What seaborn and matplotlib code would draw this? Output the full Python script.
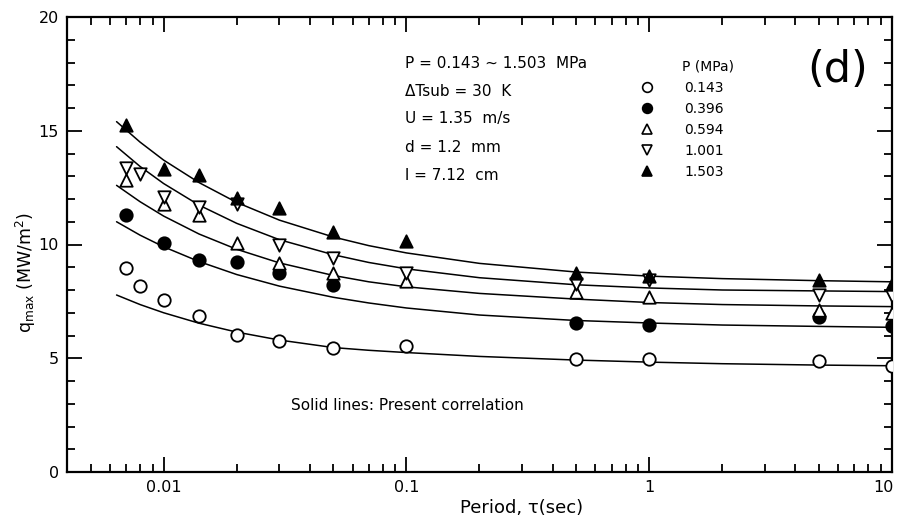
import numpy as np
import pandas as pd
import matplotlib
matplotlib.use("Agg")
import matplotlib.pyplot as plt
import matplotlib.transforms as mtransforms
from matplotlib.ticker import FixedLocator, FixedFormatter, LogLocator, MultipleLocator, NullFormatter
from matplotlib.lines import Line2D
import seaborn as sns

# ---- measured critical heat flux, q_max (MW/m^2) vs. period tau (s) ----
pressures = ["0.143", "0.396", "0.594", "1.001", "1.503"]

tau_0143 = [0.007, 0.008, 0.01, 0.014, 0.02, 0.03, 0.05, 0.1, 0.5, 1, 5, 10]
q_0143 = [8.95, 8.18, 7.56, 6.86, 6.02, 5.77, 5.44, 5.55, 4.97, 4.98, 4.88, 4.65]

tau_0396 = [0.007, 0.01, 0.014, 0.02, 0.03, 0.05, 0.5, 1, 5, 10]
q_0396 = [11.3, 10.08, 9.32, 9.22, 8.73, 8.22, 6.55, 6.48, 6.8, 6.4]

tau_0594 = [0.007, 0.01, 0.014, 0.02, 0.03, 0.05, 0.1, 0.5, 1, 5, 10]
q_0594 = [12.84, 11.8, 11.3, 10.08, 9.2, 8.73, 8.38, 7.93, 7.68, 7.12, 6.98]

tau_1001 = [0.007, 0.008, 0.01, 0.014, 0.02, 0.03, 0.05, 0.1, 0.5, 1, 5, 10]
q_1001 = [13.35, 13.1, 12.1, 11.63, 11.78, 9.98, 9.39, 8.76, 8.26, 8.45, 7.78, 7.75]

tau_1503 = [0.007, 0.01, 0.014, 0.02, 0.03, 0.05, 0.1, 0.5, 1, 5, 10]
q_1503 = [15.25, 13.3, 13.05, 12.03, 11.59, 10.56, 10.15, 8.76, 8.6, 8.44, 8.26]

# ---- correlation curves (solid lines) ----
tau_line = [0.0064, 0.008, 0.01, 0.014, 0.02, 0.03, 0.05, 0.07, 0.1, 0.2, 0.5, 1, 2, 5, 10]
line_0143 = [7.78, 7.36, 7.0, 6.54, 6.15, 5.8, 5.47, 5.35, 5.25, 5.08, 4.92, 4.83, 4.76, 4.7, 4.67]
line_0396 = [11.0, 10.41, 9.9, 9.25, 8.68, 8.17, 7.68, 7.43, 7.21, 6.9, 6.66, 6.55, 6.46, 6.4, 6.36]
line_0594 = [12.6, 11.88, 11.25, 10.46, 9.79, 9.19, 8.64, 8.36, 8.14, 7.85, 7.6, 7.45, 7.36, 7.3, 7.27]
line_1001 = [14.3, 13.43, 12.68, 11.73, 10.93, 10.21, 9.55, 9.21, 8.93, 8.54, 8.23, 8.09, 8.0, 7.96, 7.93]
line_1503 = [15.4, 14.5, 13.71, 12.72, 11.85, 11.07, 10.33, 9.95, 9.63, 9.17, 8.79, 8.61, 8.5, 8.41, 8.36]

x_ticks = [0.01, 0.1, 1, 10]
x_tick_labels = ["0.01", "0.1", "1", "10"]
y_ticks = [0, 5, 10, 15, 20]

conditions = ["P = 0.143 ~ 1.503  MPa", "\u0394Tsub = 30  K", "U = 1.35  m/s",
              "d = 1.2  mm", "l = 7.12  cm"]

# ---- tidy tables ----
points = pd.concat([
    pd.DataFrame({"tau": t, "q": q, "P": p})
    for p, t, q in zip(pressures,
                       [tau_0143, tau_0396, tau_0594, tau_1001, tau_1503],
                       [q_0143, q_0396, q_0594, q_1001, q_1503])
], ignore_index=True)

curves = pd.concat([
    pd.DataFrame({"tau": tau_line, "q": q, "P": p})
    for p, q in zip(pressures, [line_0143, line_0396, line_0594, line_1001, line_1503])
], ignore_index=True)

# ---- styling ----
sns.set_theme(style="ticks")
plt.rcParams["font.family"] = ["DejaVu Sans"]
plt.rcParams["mathtext.fontset"] = "dejavusans"
plt.rcParams["text.color"] = "black"
plt.rcParams["axes.labelcolor"] = "black"
plt.rcParams["xtick.color"] = "black"
plt.rcParams["ytick.color"] = "black"

W, H = 900, 520
fig = plt.figure(figsize=(W / 100, H / 100), dpi=100)
ax = fig.add_axes([67 / W, 48 / H, 825 / W, 455 / H])

def fx(px):
    return px / W

def fy(py):
    return 1 - py / H

sns.lineplot(data=curves, x="tau", y="q", hue="P", palette=["black"] * 5,
             estimator=None, sort=True, legend=False, linewidth=1.1, ax=ax)

marker_style = {
    "0.143": dict(marker="o", fill=False),
    "0.396": dict(marker="o", fill=True),
    "0.594": dict(marker="^", fill=False),
    "1.001": dict(marker="v", fill=False),
    "1.503": dict(marker="^", fill=True),
}

handles = []
for p in pressures:
    st = marker_style[p]
    sub = points[points["P"] == p]
    fc = "black" if st["fill"] else "white"
    sns.scatterplot(data=sub, x="tau", y="q", marker=st["marker"], s=80,
                    color=fc, edgecolor="black", linewidth=1.3, zorder=3,
                    legend=False, ax=ax)
    handles.append(Line2D([], [], linestyle="none", marker=st["marker"],
                          markersize=7, markerfacecolor=fc,
                          markeredgecolor="black", markeredgewidth=1.2))

ax.set_xscale("log")
ax.set_xlim(0.004, 10)
ax.set_ylim(0, 20)

ax.xaxis.set_major_locator(FixedLocator(x_ticks))
ax.xaxis.set_major_formatter(FixedFormatter(x_tick_labels))
ax.xaxis.set_minor_locator(LogLocator(base=10, subs=np.arange(2, 10)))
ax.xaxis.set_minor_formatter(NullFormatter())
ax.yaxis.set_major_locator(FixedLocator(y_ticks))
ax.yaxis.set_minor_locator(MultipleLocator(1))

ax.tick_params(which="both", direction="in", top=True, right=True,
               colors="black", labelsize=11.5, width=1.3)
ax.tick_params(which="major", length=11, pad=6)
ax.tick_params(which="minor", length=6)
for s in ax.spines.values():
    s.set_linewidth(1.6)
    s.set_color("black")

# keep the last x tick label inside the figure edge
fig.canvas.draw()
last = ax.get_xticklabels()[-1]
last.set_transform(last.get_transform() +
                   mtransforms.ScaledTranslation(-9 / 100, 0, fig.dpi_scale_trans))

ax.set_xlabel("")
ax.set_ylabel("")
fig.text(fx(522), fy(508), "Period, \u03c4(sec)", ha="center", va="center", fontsize=13)
fig.text(fx(26), fy(272), r"q$_{\rm max}$ (MW/m$^2$)", ha="center", va="center",
         rotation=90, fontsize=12.5)

# test conditions
for i, txt in enumerate(conditions):
    fig.text(fx(405), fy(63 + i * 28), txt, ha="left", va="center", fontsize=11)

fig.text(fx(291), fy(405), "Solid lines: Present correlation", ha="left",
         va="center", fontsize=11)

fig.text(fx(838), fy(70), "(d)", ha="center", va="center", fontsize=31)

# legend
fig.text(fx(682), fy(67), "P (MPa)", ha="left", va="center", fontsize=10)
ax.legend(handles, pressures, loc="upper left",
          bbox_to_anchor=(fx(640), fy(81)), bbox_transform=fig.transFigure,
          frameon=False, fontsize=10, handlelength=1.0, handletextpad=2.2,
          labelspacing=0.5, borderpad=0, borderaxespad=0)

fig.savefig("out.png", dpi=100)
